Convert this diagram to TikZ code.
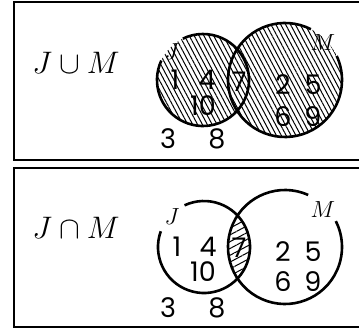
\documentclass[tikz,border=0pt]{standalone}
\usepackage{fontspec}
\usepackage{graphicx}
\newfontfamily\numfont{Poppins}
\usepackage{tikz}
\usetikzlibrary{positioning, patterns.meta}
\newcommand{\bigmath}[1]{\scalebox{1.5}{\huge$#1$}}
\newcommand{\setlabel}[1]{\scalebox{1.35}{\LARGE$#1$}}

\begin{document}
\begin{tikzpicture}[
    x=1pt, y=1pt,
    panel/.style={draw, line width=2.6pt},
    circ/.style={line width=2.6pt},
    num/.style={font=\numfont\fontsize{27}{27}\selectfont, inner sep=0pt},
    title/.style={inner sep=0pt},
    setname/.style={inner sep=0pt},
    unionhatch/.style={pattern={Lines[angle=-62, distance=4.3pt, line width=1pt]}},
    meethatch/.style={pattern={Lines[angle=28, distance=6pt, line width=1pt]}}
]
\useasboundingbox (0,0) rectangle (359,330);

% top panel: union
\draw[panel] (14,328) rectangle (380,170);
\coordinate (jU) at (203,250);
\coordinate (mU) at (285,250);
\fill[unionhatch] (jU) circle[radius=46] (mU) circle[radius=57];
\draw[circ] ([shift=(155:46)]jU) arc[start angle=155, end angle=476, radius=46];
\draw[circ] ([shift=(63:57)]mU) arc[start angle=63, end angle=385, radius=57];
\node[title] (tU) at (76,267) {\bigmath{J\cup M}};
\node[setname] (lJU) at (172,278) {\setlabel{J}};
\node[setname] (lMU) at (323,287) {\setlabel{M}};
\node[num] (u1) at (175,250) {1};
\node[num] (u4) at (207,250) {4};
\node[num] (u10) at (203,224) {10};
\node[num] (u7) at (239,248) {7};
\node[num] (u2) at (283,245) {2};
\node[num] (u5) at (313,245) {5};
\node[num] (u6) at (283,213) {6};
\node[num] (u9) at (313,213) {9};
\node[num] (u3) at (168,191) {3};
\node[num] (u8) at (217,191) {8};

% bottom panel: intersection
\draw[panel] (14,162) rectangle (380,3);
\coordinate (jI) at (204,83);
\coordinate (mI) at (285,83);
\begin{scope}
  \clip (jI) circle[radius=46];
  \fill[meethatch] (mI) circle[radius=57];
\end{scope}
\draw[circ] ([shift=(160:46)]jI) arc[start angle=160, end angle=475, radius=46];
\draw[circ] ([shift=(66:57)]mI) arc[start angle=66, end angle=387, radius=57];
\node[title] (tI) at (76,102) {\bigmath{J\cap M}};
\node[setname] (lJI) at (172,113) {\setlabel{J}};
\node[setname] (lMI) at (323,120) {\setlabel{M}};
\node[num] (i1) at (177,83) {1};
\node[num] (i4) at (208,83) {4};
\node[num] (i10) at (203,58) {10};
\node[num] (i7) at (239,82) {7};
\node[num] (i2) at (283,78) {2};
\node[num] (i5) at (313,78) {5};
\node[num] (i6) at (283,48) {6};
\node[num] (i9) at (313,48) {9};
\node[num] (i3) at (168,22) {3};
\node[num] (i8) at (217,22) {8};
\end{tikzpicture}
\end{document}
